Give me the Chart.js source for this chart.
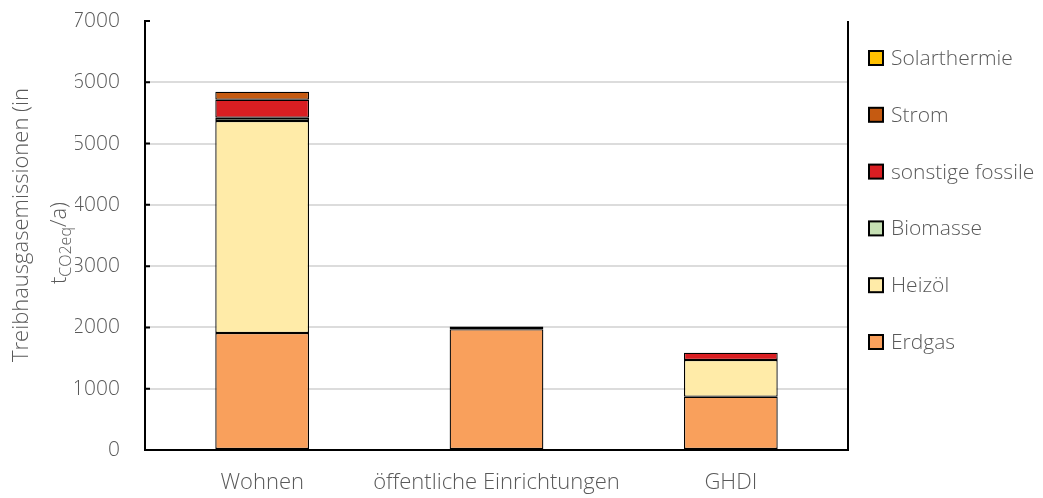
<!DOCTYPE html>
<html>
<head>
<meta charset="utf-8">
<script src="https://cdn.jsdelivr.net/npm/chart.js@4.4.1/dist/chart.umd.min.js"></script>
<style>
  html, body { margin: 0; padding: 0; background: #fff; }
  #wrap { width: 1043px; height: 498px; position: relative; }
</style>
</head>
<body>
<div id="wrap"><canvas id="grafico"></canvas></div>
<script>
// ===================== DATEN =====================
const kategorien = ["Wohnen", "öffentliche Einrichtungen", "GHDI"];
const yTicks = [0, 1000, 2000, 3000, 4000, 5000, 6000, 7000];

const erdgas          = [1910, 1972, 870];
const heizoel         = [3460, 0, 598];
const biomasse        = [50, 0, 0];
const sonstigeFossile = [295, 0, 120];
const strom           = [130, 45, 0];
const solarthermie    = [0, 0, 0];

const serien = [
  { label: "Erdgas",           data: erdgas,          color: "#F9A05C" },
  { label: "Heizöl",           data: heizoel,         color: "#FFEBA8" },
  { label: "Biomasse",         data: biomasse,        color: "#C6E0B4" },
  { label: "sonstige fossile", data: sonstigeFossile, color: "#D91E22" },
  { label: "Strom",            data: strom,           color: "#C55A11" },
  { label: "Solarthermie",     data: solarthermie,    color: "#FFC000" },
];

const FONT = "'Open Sans', 'Segoe UI', sans-serif";
const GRAU = "#595959";

// ===================== PLUGINS =====================

// Rahmen rechts + kleine Innen-Ticks an der Y-Achse
const rahmenPlugin = {
  id: "rahmen",
  afterDatasetsDraw(chart) {
    const { ctx, chartArea: a, scales: { y } } = chart;
    ctx.save();
    ctx.strokeStyle = "#000";
    ctx.lineWidth = 2;
    ctx.beginPath();
    ctx.moveTo(a.right, a.top);
    ctx.lineTo(a.right, a.bottom);
    yTicks.forEach(v => {
      const py = y.getPixelForValue(v);
      ctx.moveTo(a.left, py);
      ctx.lineTo(a.left + 5, py);
    });
    ctx.stroke();
    ctx.restore();
  },
};

// Y-Achsentitel mit tiefgestelltem CO2eq
const achsenTitelPlugin = {
  id: "achsenTitel",
  afterDraw(chart) {
    const { ctx } = chart;
    const cy = 225;
    ctx.save();
    ctx.fillStyle = GRAU;
    ctx.textBaseline = "middle";

    // Zeile 1
    ctx.save();
    ctx.translate(22, cy);
    ctx.rotate(-Math.PI / 2);
    ctx.font = `300 22px ${FONT}`;
    ctx.textAlign = "center";
    ctx.fillText("Treibhausgasemissionen (in", 0, 0);
    ctx.restore();

    // Zeile 2: t_CO2eq/a)
    ctx.save();
    ctx.translate(60, cy + 18);
    ctx.rotate(-Math.PI / 2);
    const fBig = `300 22px ${FONT}`;
    const fSub = `300 16px ${FONT}`;
    ctx.font = fBig; const w1 = ctx.measureText("t").width;
    ctx.font = fSub; const w2 = ctx.measureText("CO2eq").width;
    ctx.font = fBig; const w3 = ctx.measureText("/a)").width;
    let x = -(w1 + w2 + w3) / 2;
    ctx.textAlign = "left";
    ctx.font = fBig; ctx.fillText("t", x, 0); x += w1;
    ctx.font = fSub; ctx.fillText("CO2eq", x, 6); x += w2;
    ctx.font = fBig; ctx.fillText("/a)", x, 0);
    ctx.restore();

    ctx.restore();
  },
};

// Legende rechts (umgekehrte Reihenfolge)
const legendePlugin = {
  id: "legende",
  afterDraw(chart) {
    const { ctx } = chart;
    const items = chart.data.datasets.slice().reverse();
    ctx.save();
    ctx.font = `300 21px ${FONT}`;
    ctx.textBaseline = "middle";
    ctx.textAlign = "left";
    items.forEach((ds, i) => {
      const cy = 58 + i * 56.8;
      ctx.fillStyle = ds.backgroundColor;
      ctx.fillRect(869, cy - 7, 14, 14);
      ctx.strokeStyle = "#000";
      ctx.lineWidth = 2;
      ctx.strokeRect(869, cy - 7, 14, 14);
      ctx.fillStyle = GRAU;
      ctx.fillText(ds.label, 891, cy + 1);
    });
    ctx.restore();
  },
};

// ===================== GRÄFICO =====================

function renderGrafico() {
  const canvas = document.getElementById("grafico");
  if (!canvas || typeof Chart === "undefined") return;

  new Chart(canvas.getContext("2d"), {
    type: "bar",
    data: {
      labels: kategorien,
      datasets: serien.map(s => ({
        label: s.label,
        data: s.data.map(v => (v > 0 ? v : null)),
        backgroundColor: s.color,
        borderColor: "#000",
        borderWidth: 1.3,
        borderSkipped: false,
        barPercentage: 0.4,
        categoryPercentage: 1,
      })),
    },
    options: {
      responsive: true,
      maintainAspectRatio: false,
      animation: false,
      layout: { padding: { left: 75, right: 195, top: 0, bottom: 2 } },
      scales: {
        x: {
          stacked: true,
          afterFit: scale => { scale.height = 46; },
          grid: { display: false, drawTicks: false },
          border: { display: true, color: "#000", width: 2 },
          ticks: {
            color: GRAU,
            font: { family: FONT, size: 22, weight: 300 },
            padding: 20,
            maxRotation: 0,
            autoSkip: false,
          },
        },
        y: {
          stacked: true,
          min: 0,
          max: 7000,
          afterFit: scale => { scale.width = 70; scale.paddingTop = 21; scale.paddingBottom = 12; },
          afterBuildTicks: scale => { scale.ticks = yTicks.map(v => ({ value: v })); },
          grid: {
            drawTicks: false,
            lineWidth: 2,
            color: ctx => (ctx.tick && (ctx.tick.value === 7000 || ctx.tick.value === 0)) ? "rgba(0,0,0,0)" : "#dcdcdc",
          },
          border: { display: true, color: "#000", width: 2 },
          ticks: {
            color: GRAU,
            font: { family: FONT, size: 21, weight: 300 },
            padding: 25,
            callback: v => String(v),
          },
        },
      },
      plugins: {
        legend: { display: false },
        tooltip: { enabled: false },
      },
    },
    plugins: [rahmenPlugin, achsenTitelPlugin, legendePlugin],
  });
}

document.addEventListener("DOMContentLoaded", renderGrafico);
</script>
</body>
</html>
